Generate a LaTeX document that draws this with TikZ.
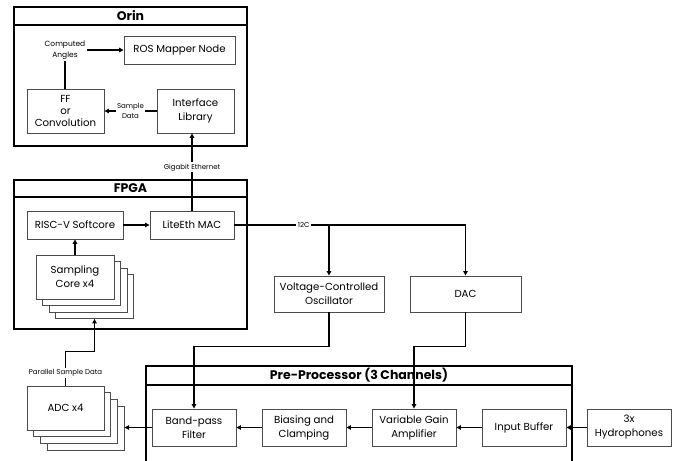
\documentclass[tikz,border=0pt]{standalone}
\usepackage{fontspec}
\setmainfont{Poppins}
\usetikzlibrary{arrows.meta,calc}
\begin{document}
\begin{tikzpicture}[x=1pt,y=-1pt,
  box/.style={draw=black!70,line width=0.9pt,fill=white,align=center,inner sep=1pt,
    font=\fontsize{10.2}{14}\selectfont},
  cont/.style={draw=black,line width=1.3pt},
  ttl/.style={font=\fontsize{12.5}{14}\selectfont\bfseries},
  lbl/.style={font=\fontsize{7}{9.5}\selectfont,fill=white,inner sep=1.5pt,align=center},
  conn/.style={line width=1.1pt,draw=black},
  arr/.style={conn,-{Triangle[length=4.5pt,width=4.5pt]}}
]
\useasboundingbox (0,0) rectangle (681,461);
% containers
\draw[cont] (14,7) rectangle (247,146);
\draw[cont] (14,25) -- (247,25);
\node[ttl] (torin) at (130.5,16) {Orin};
\draw[cont] (14,180) rectangle (247,329);
\draw[cont] (14,197) -- (247,197);
\node[ttl] (tfpga) at (130.5,188.5) {FPGA};
\draw[cont] (146,470) -- (146,366) -- (572,366) -- (572,470);
\draw[cont] (146,385) -- (572,385);
\node[ttl] (tpre) at (359,375.5) {Pre-Processor (3 Channels)};
% Orin nodes
\node[box,minimum width=111pt,minimum height=28pt] (ros) at (179.5,50) {ROS Mapper Node};
\node[box,minimum width=77pt,minimum height=44pt,font=\fontsize{10.2}{12}\selectfont] (ff) at (65.5,111) {FF\\or\\Convolution};
\node[box,minimum width=77pt,minimum height=44pt] (iface) at (195.5,111) {Interface\\Library};
\node[lbl,font=\fontsize{7.5}{10.5}\selectfont] (ca) at (65,50) {Computed\\Angles};
% FPGA nodes
\node[box,minimum width=96pt,minimum height=28pt] (risc) at (75,225) {RISC-V Softcore};
\node[box,minimum width=84pt,minimum height=28pt] (lite) at (192,225) {LiteEth MAC};
\foreach \k in {3,2,1}{
  \node[box,minimum width=78pt,minimum height=44pt] (samp\k) at ($(75,277)+(6.5*\k,6.5*\k)$) {};
}
\node[box,minimum width=78pt,minimum height=44pt] (samp) at (75,277) {Sampling\\Core x4};
% ADC
\foreach \k in {3,2,1}{
  \node[box,minimum width=77pt,minimum height=44pt] (adc\k) at ($(65.5,408)+(6.7*\k,6.7*\k)$) {};
}
\node[box,minimum width=77pt,minimum height=44pt] (adc) at (65.5,408) {ADC x4};
% VCO / DAC
\node[box,minimum width=110pt,minimum height=36pt] (vco) at (329,294) {Voltage-Controlled\\Oscillator};
\node[box,minimum width=111pt,minimum height=36pt] (dac) at (465.5,294) {DAC};
% chain
\node[box,minimum width=84pt,minimum height=37pt] (band) at (194,427.5) {Band-pass\\Filter};
\node[box,minimum width=84pt,minimum height=37pt] (bias) at (304,427.5) {Biasing and\\Clamping};
\node[box,minimum width=84pt,minimum height=37pt] (vga) at (414,427.5) {Variable Gain\\Amplifier};
\node[box,minimum width=84pt,minimum height=37pt] (inbuf) at (524,427.5) {Input Buffer};
\node[box,minimum width=84pt,minimum height=37pt] (hydro) at (629,427.5) {3x\\Hydrophones};
% connectors
\draw[conn] (ff.north -| ca.south) -- (ca.south);
\draw[arr] (ca.east |- ros.west) -- (ros.west);
\draw[arr] (iface.west) -- node[lbl]{Sample\\Data} (ff.east);
\draw[arr] (lite.north) -- node[lbl,pos=0.56]{Gigabit Ethernet} (lite.north |- iface.south);
\draw[arr] (risc.east) -- (lite.west);
\draw[arr] (samp.north) -- (risc.south);
\draw[arr] (adc.north) -- node[lbl,pos=0.38]{Parallel Sample Data} ++(0,-34) -| (samp3.south);
\draw[arr] (lite.east) -- node[lbl,pos=0.30]{12C} (dac.north |- lite.east) -- (dac.north);
\draw[arr] (vco.north |- lite.east) -- (vco.north);
\draw[arr] (vco.south) -- ++(0,34) -| (band.north);
\draw[arr] (dac.south) -- ++(0,34) -| (vga.north);
\draw[arr] (hydro.west) -- (inbuf.east);
\draw[arr] (inbuf.west) -- (vga.east);
\draw[arr] (vga.west) -- (bias.east);
\draw[arr] (bias.west) -- (band.east);
\draw[arr] (band.west) -- (band.west -| adc3.east);
\end{tikzpicture}
\end{document}
